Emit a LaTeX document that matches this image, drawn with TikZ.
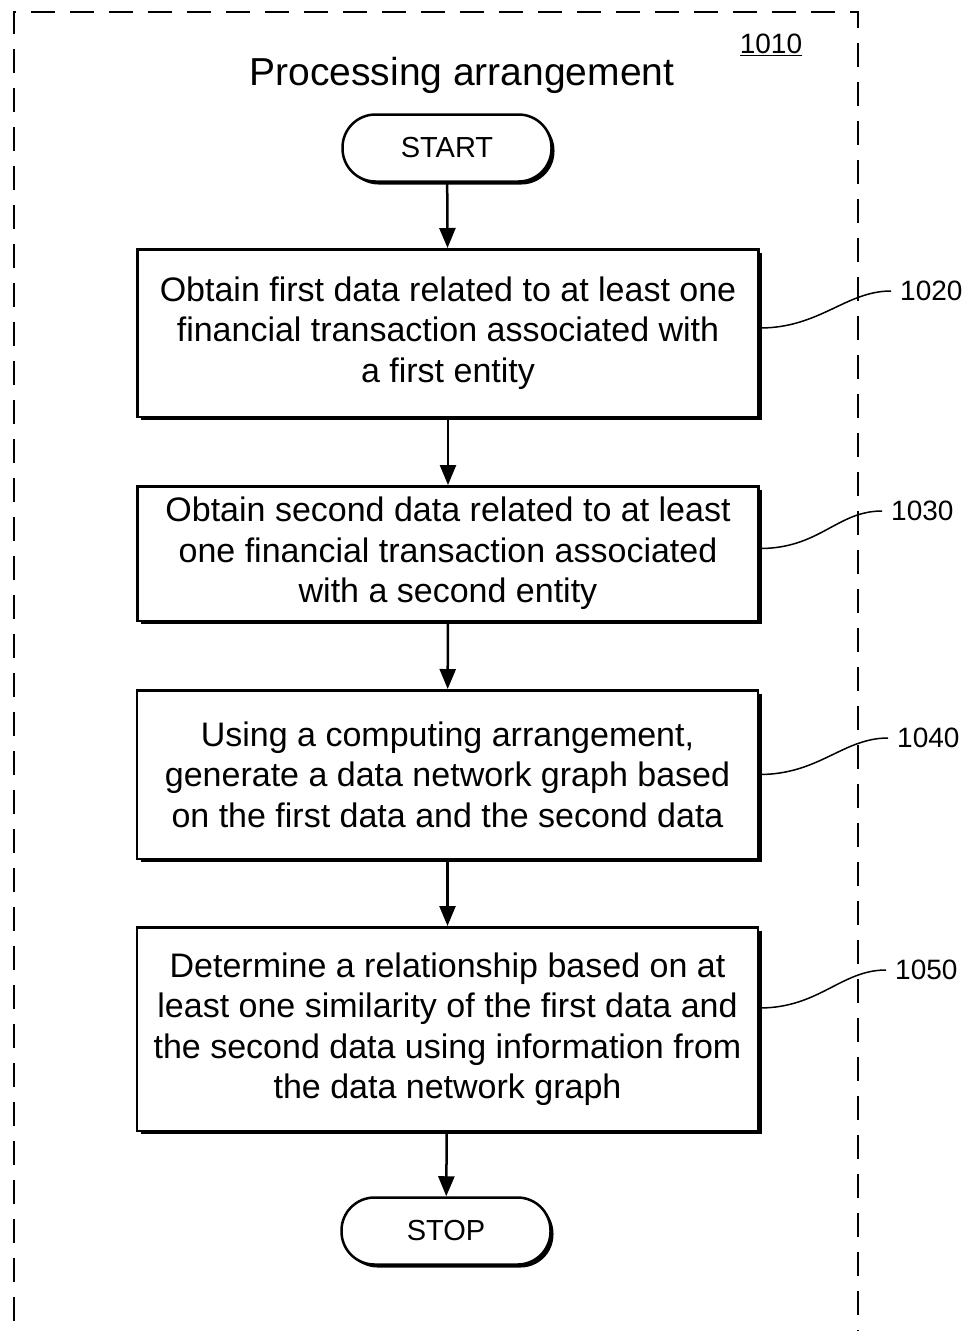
\documentclass[tikz,border=0pt]{standalone}
\usepackage{fontspec}
\setmainfont{Liberation Sans}
\usetikzlibrary{arrows.meta,positioning,calc,shadows}
\tikzset{
  frame/.style    = {line width=2pt, dash pattern=on 24pt off 15pt},
  stepbox/.style  = {draw, line width=2.5pt, fill=white, minimum width=621pt,
                     align=center, inner sep=0pt,
                     font=\fontsize{34}{40.5}\selectfont,
                     drop shadow={shadow xshift=3.5pt, shadow yshift=-3.5pt,
                                  fill=black, opacity=1}},
  termbox/.style  = {draw, line width=2.5pt, fill=white, rounded corners=33pt,
                     minimum width=209pt, minimum height=67pt,
                     font=\fontsize{29}{34}\selectfont,
                     drop shadow={shadow xshift=3pt, shadow yshift=-3pt,
                                  fill=black, opacity=1}},
  flow/.style     = {-{Triangle[length=20pt,width=16pt]}, line width=2.5pt},
  leader/.style   = {line width=1.5pt}, % curved reference line
  reflabel/.style = {font=\fontsize{28}{33}\selectfont, anchor=west, inner sep=0pt}
}

\begin{document}
\begin{tikzpicture}[x=1pt,y=-1pt]
\useasboundingbox (0,0) rectangle (964,1331);

% dashed outline of the arrangement (open at the bottom)
\draw[frame] (14,1360) -- (14,12) -- (858,12) -- (858,1360);
\node[font=\fontsize{39}{46}\selectfont] (title) at (462,75) {Processing arrangement};
\node[font=\fontsize{28}{33}\selectfont] (ref) at (771,45) {\underline{1010}};

% --- terminals ---
\node[termbox] (start) at (447,148)  {START};
\node[termbox] (stop)  at (446,1231) {STOP};

% --- steps ---
\node[stepbox, minimum height=167.5pt] (s1) at (448,333)
  {Obtain first data related to at least one\\financial transaction associated with\\a first entity};
\node[stepbox, minimum height=134.5pt] (s2) at (448,553.5)
  {Obtain second data related to at least\\one financial transaction associated\\with a second entity};
\node[stepbox, minimum height=168.5pt] (s3) at (447.5,774.5)
  {Using a computing arrangement,\\generate a data network graph based\\on the first data and the second data};
\node[stepbox, minimum height=203.5pt] (s4) at (447.5,1029)
  {Determine a relationship based on at\\least one similarity of the first data and\\the second data using information from\\the data network graph};

% --- flow arrows ---
\draw[flow] (start) -- (s1);
\draw[flow] (s1) -- (s2);
\draw[flow] (s2) -- (s3);
\draw[flow] (s3) -- (s4);
\draw[flow] (s4) -- (stop);

% --- reference numerals ---
\node[reflabel] (l1) at (900,291) {1020};
\node[reflabel] (l2) at (891,511) {1030};
\node[reflabel] (l3) at (897,738) {1040};
\node[reflabel] (l4) at (895,970) {1050};

\foreach \s/\l/\dy in {s1/l1/5, s2/l2/5, s3/l3/0, s4/l4/21}{
  \draw[leader] ([yshift=\dy pt]\s.east) .. controls +(60,0) and +(-45,0) .. ([xshift=-9pt]\l.west);
}

\end{tikzpicture}
\end{document}
